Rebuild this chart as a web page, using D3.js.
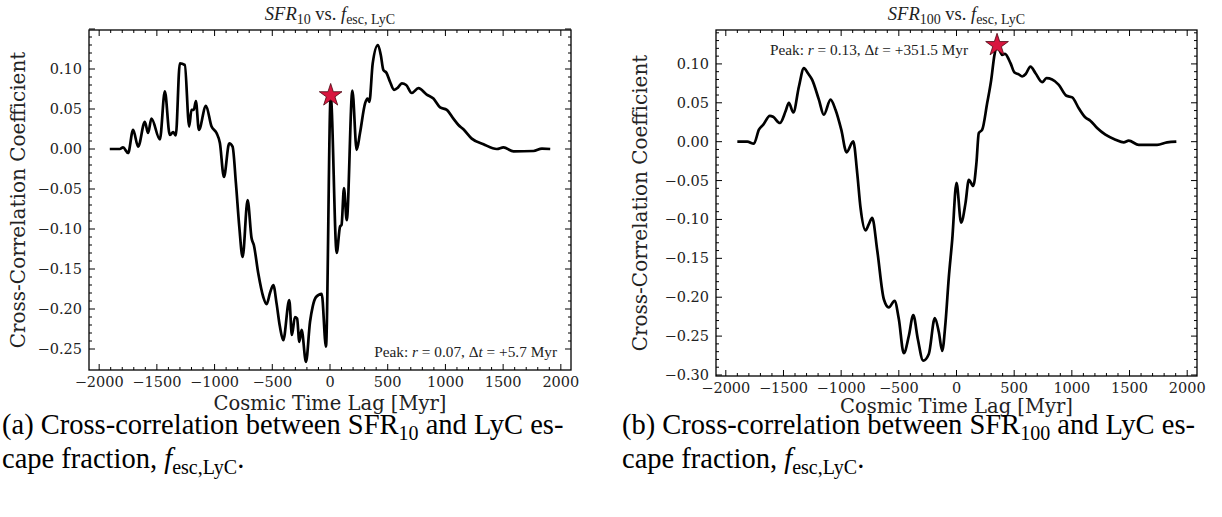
<!DOCTYPE html>
<html><head><meta charset="utf-8">
<script src="https://cdn.jsdelivr.net/npm/d3@7"></script>
<style>body{margin:0;background:#fff}</style></head>
<body><svg id="c" width="1222" height="517"></svg>
<script>
// ---------- data ----------
const lagA = [-1908,-1821,-1793,-1749,-1706,-1662,-1604,-1576,-1547,-1474,-1431,-1388,-1359,-1336,-1301,-1258,-1220,-1200,-1180,-1162,-1136,-1075,-1026,-983,-954,-919,-873,-844,-815,-786,-757,-714,-679,-660,-622,-578,-549,-520,-491,-463,-434,-405,-353,-330,-304,-285,-266,-246,-208,-173,-150,-121,-72,-35,6,58,87,100,121,145,194,231,260,304,325,341,370,415,440,462,490,520,555,590,622,660,708,766,838,896,954,1012,1069,1113,1156,1228,1330,1445,1503,1590,1763,1836,1908];
const rA = [0,0,0.002,-0.005,0.024,0.003,0.034,0.020,0.038,0.012,0.072,0.0175,0.021,0.017,0.107,0.105,0.028,0.049,0.049,0.060,0.024,0.054,0.028,0.020,0.0075,-0.035,0.007,0.003,-0.043,-0.097,-0.135,-0.064,-0.112,-0.120,-0.155,-0.185,-0.194,-0.180,-0.170,-0.193,-0.222,-0.239,-0.189,-0.2325,-0.210,-0.212,-0.241,-0.226,-0.266,-0.216,-0.197,-0.185,-0.181,-0.247,0.066,-0.130,-0.097,-0.095,-0.049,-0.089,0.073,-0.001,0.020,0.057,0.063,0.059,0.107,0.130,0.1175,0.099,0.095,0.084,0.074,0.077,0.082,0.080,0.070,0.076,0.068,0.063,0.052,0.049,0.038,0.030,0.0246,0.013,0.006,0.000,0.002,-0.003,-0.0025,0.0005,0];

const lagB = [-1900,-1814,-1757,-1713,-1675,-1618,-1590,-1531,-1482,-1453,-1415,-1366,-1323,-1288,-1251,-1193,-1150,-1092,-1049,-999,-953,-895,-861,-832,-789,-760,-731,-687,-630,-587,-537,-500,-457,-413,-375,-335,-289,-240,-188,-153,-124,-95,-67,-37,0,40,78,107,145,173,193,223,266,301,329,352,396,420,468,503,540,569,600,641,685,743,780,829,887,953,1003,1060,1118,1160,1219,1291,1378,1450,1493,1580,1739,1826,1906];
const rB = [0,0,-0.0026,0.0154,0.022,0.0333,0.032,0.024,0.039,0.050,0.0376,0.071,0.0945,0.088,0.0795,0.054,0.0346,0.054,0.041,0.0154,-0.0137,0.0004,-0.040,-0.085,-0.114,-0.106,-0.098,-0.140,-0.2026,-0.213,-0.2047,-0.228,-0.272,-0.2496,-0.223,-0.254,-0.2816,-0.273,-0.227,-0.245,-0.269,-0.232,-0.175,-0.126,-0.053,-0.104,-0.079,-0.049,-0.057,-0.027,0.011,0.0154,0.0496,0.0795,0.1115,0.124,0.1115,0.113,0.101,0.0889,0.0865,0.0838,0.087,0.0966,0.088,0.0765,0.0816,0.080,0.073,0.059,0.057,0.043,0.031,0.027,0.0175,0.009,0.0026,-0.001,0.0013,-0.004,-0.004,-0.001,0];

const peakA = [5.7, 0.067];
const peakB = [351.5, 0.124];

const xTicks = [-2000,-1500,-1000,-500,0,500,1000,1500,2000];
const yTicksA = [-0.25,-0.20,-0.15,-0.10,-0.05,0.00,0.05,0.10];
const yTicksB = [-0.30,-0.25,-0.20,-0.15,-0.10,-0.05,0.00,0.05,0.10];

// ---------- drawing ----------
const svg = d3.select("#c");
const serif = "'Liberation Serif','Times New Roman',serif";
const dv = "'DejaVu Serif',serif";
const fmt = d3.format(".2f");

function panel(o) {
  const x = d3.scaleLinear().domain(o.xd).range([o.x0, o.x1]);
  const y = d3.scaleLinear().domain(o.yd).range([o.y1, o.y0]);
  const g = svg.append("g");
  const line = d3.line().x((d,i)=>x(o.lags[i])).y((d,i)=>y(o.r[i])).curve(d3.curveMonotoneX);
  g.append("path").attr("d", line(o.r)).attr("fill","none").attr("stroke","#000")
    .attr("stroke-width",2.7).attr("stroke-linejoin","round");
  const tk = g.append("g").attr("stroke","#000").attr("stroke-width",1);
  d3.range(-2000, 2001, 100).forEach(v => {
    const L = v % 500 === 0 ? 6 : 3;
    const px = x(v);
    tk.append("line").attr("x1",px).attr("x2",px).attr("y1",o.y1).attr("y2",o.y1-L);
    tk.append("line").attr("x1",px).attr("x2",px).attr("y1",o.y0).attr("y2",o.y0+L);
  });
  d3.range(Math.round(o.yt[0]*100), Math.round(o.yd[1]*100)+1, 1).map(v=>v/100).forEach(v => {
    const L = Math.round(v*100) % 5 === 0 ? 6 : 3;
    const py = y(v);
    tk.append("line").attr("x1",o.x0).attr("x2",o.x0+L).attr("y1",py).attr("y2",py);
    tk.append("line").attr("x1",o.x1).attr("x2",o.x1-L).attr("y1",py).attr("y2",py);
  });
  g.append("rect").attr("x",o.x0).attr("y",o.y0).attr("width",o.x1-o.x0).attr("height",o.y1-o.y0)
    .attr("fill","none").attr("stroke","#000").attr("stroke-width",1.3);
  g.selectAll(".xl").data(o.xt).enter().append("text")
    .attr("x",d=>x(d)).attr("y",o.y1+17).attr("text-anchor","middle")
    .attr("font-family",dv).attr("font-size",14.5).attr("fill","#222")
    .text(d=>d3.format("d")(d));
  g.selectAll(".yl").data(o.yt).enter().append("text")
    .attr("x",o.x0-7).attr("y",d=>y(d)+5).attr("text-anchor","end")
    .attr("font-family",dv).attr("font-size",14.5).attr("fill","#222")
    .text(d=>fmt(d));
  g.append("text").attr("x",(o.x0+o.x1)/2).attr("y",o.xly).attr("text-anchor","middle")
    .attr("font-family",dv).attr("font-size",19.5).attr("fill","#222").text("Cosmic Time Lag [Myr]");
  g.append("text").attr("transform",`translate(${o.ylx},${(o.y0+o.y1)/2}) rotate(-90)`)
    .attr("text-anchor","middle").attr("font-family",dv).attr("font-size",20).attr("fill","#222")
    .text("Cross-Correlation Coefficient");
  const t = g.append("text").attr("x",(o.x0+o.x1)/2).attr("y",20).attr("text-anchor","middle")
    .attr("font-family",serif).attr("font-size",18.5).attr("fill","#222");
  t.append("tspan").attr("font-style","italic").text("SFR");
  t.append("tspan").attr("font-size",14).attr("dy",4).text(o.sub);
  t.append("tspan").attr("dy",-4).text(" vs. ");
  t.append("tspan").attr("font-style","italic").text("f");
  t.append("tspan").attr("font-size",14).attr("dy",4).text("esc, LyC");
  g.append("path").attr("d", d3.symbol().type(d3.symbolStar).size(160)())
    .attr("transform",`translate(${x(o.peak[0])},${y(o.peak[1])})`)
    .attr("fill","#d8163f").attr("stroke","#4a0612").attr("stroke-width",0.8);
  const a = g.append("text").attr("x",o.ax).attr("y",o.ay).attr("text-anchor",o.aa)
    .attr("font-family",serif).attr("font-size",15.3).attr("fill","#222");
  a.append("tspan").text("Peak: ");
  a.append("tspan").attr("font-style","italic").text("r");
  a.append("tspan").text(" = " + o.rtxt + ",  Δ");
  a.append("tspan").attr("font-style","italic").text("t");
  a.append("tspan").text(" = " + o.ttxt + " Myr");
  const c1 = svg.append("text").attr("x",o.cx).attr("y",434).attr("font-family",serif)
    .attr("font-size",28.5).attr("fill","#000");
  c1.append("tspan").text(o.clab + " Cross-correlation between SFR");
  c1.append("tspan").attr("font-size",20).attr("dy",6).text(o.sub);
  c1.append("tspan").attr("dy",-6).text(" and LyC es-");
  const c2 = svg.append("text").attr("x",o.cx).attr("y",468).attr("font-family",serif)
    .attr("font-size",28.5).attr("fill","#000");
  c2.append("tspan").text("cape fraction, ");
  c2.append("tspan").attr("font-style","italic").text("f");
  c2.append("tspan").attr("font-size",20).attr("dy",6).text("esc,LyC");
  c2.append("tspan").attr("dy",-6).text(".");
}

panel({x0:89,x1:571,y0:30,y1:370,xd:[-2088,2088],yd:[-0.27625,0.14875],lags:lagA,r:rA,
  xt:xTicks,yt:yTicksA,ylx:25,xly:410,sub:"10",peak:peakA,ax:557,ay:357,aa:"end",rtxt:"0.07",ttxt:"+5.7",
  cx:2,clab:"(a)"});
panel({x0:716,x1:1197,y0:30,y1:376,xd:[-2085,2085],yd:[-0.3013,0.1436],lags:lagB,r:rB,
  xt:xTicks,yt:yTicksB,ylx:647,xly:413,sub:"100",peak:peakB,ax:770,ay:55,aa:"start",rtxt:"0.13",ttxt:"+351.5",
  cx:622,clab:"(b)"});
</script></body></html>
